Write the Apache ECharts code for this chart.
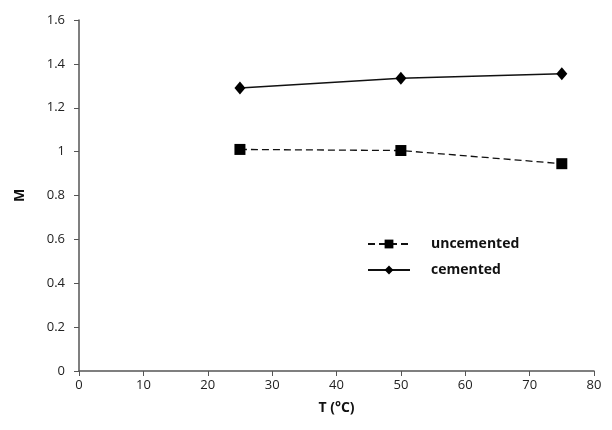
<!DOCTYPE html>
<html>
<head>
<meta charset="utf-8">
<script src="https://cdn.jsdelivr.net/npm/echarts@6/dist/echarts.min.js"></script>
<style>
  html, body { margin: 0; padding: 0; background: #fff; }
  #chart { width: 612px; height: 430px; }
</style>
</head>
<body>
<div id="chart"></div>
<script>
// 溫度與 M 值資料
var temps = [25, 50, 75];
var uncemented = [1.01, 1.005, 0.945];
var cemented = [1.29, 1.335, 1.355];
var xTicks = [0, 10, 20, 30, 40, 50, 60, 70, 80];
var yTicks = [0, 0.2, 0.4, 0.6, 0.8, 1, 1.2, 1.4, 1.6];

function pairs(xs, ys) {
    return xs.map(function (x, i) { return [x, ys[i]]; });
}

var chart = echarts.init(document.getElementById('chart'));

var axisText = { color: '#222', fontSize: 13, fontFamily: 'Open Sans' };

var option = {
    animation: false,
    grid: { left: 79, right: 18, top: 20, bottom: 59 },
    legend: {
        orient: 'vertical',
        left: 362,
        top: 232,
        itemWidth: 42,
        itemHeight: 11,
        itemGap: 12,
        textStyle: {
            fontSize: 14, fontWeight: 'bold', color: '#111', fontFamily: 'Open Sans',
            padding: [0, 0, 0, 16]   // 圖例文字與圖示間距
        },
        data: ['uncemented', 'cemented']
    },
    xAxis: {
        type: 'value',
        min: xTicks[0],
        max: xTicks[xTicks.length - 1],
        interval: 10,
        name: 'T (°C)',
        nameLocation: 'middle',
        nameGap: 30,
        nameTextStyle: { fontSize: 14, fontWeight: 'bold', color: '#111', fontFamily: 'Open Sans' },
        axisLine: { lineStyle: { color: '#555', width: 1.5 } },
        axisTick: { show: true, inside: false, length: 5, lineStyle: { color: '#555' } },
        axisLabel: axisText,
        splitLine: { show: false }
    },
    yAxis: {
        type: 'value',
        min: yTicks[0],
        max: yTicks[yTicks.length - 1],
        interval: 0.2,
        name: 'M',
        nameLocation: 'middle',
        nameGap: 52,
        nameRotate: 90,
        nameTextStyle: { fontSize: 14, fontWeight: 'bold', color: '#111', fontFamily: 'Open Sans' },
        axisLine: { show: true, lineStyle: { color: '#555', width: 1.5 } },
        axisTick: { show: true, inside: false, length: 5, lineStyle: { color: '#555' } },
        axisLabel: Object.assign({ margin: 14 }, axisText),
        splitLine: { show: false }
    },
    series: [
        {
            name: 'uncemented',
            type: 'line',
            data: pairs(temps, uncemented),
            symbol: 'rect',
            symbolSize: 11,
            lineStyle: { color: '#111', width: 1.3, type: [7, 4] },
            itemStyle: { color: '#000' }
        },
        {
            name: 'cemented',
            type: 'line',
            data: pairs(temps, cemented),
            symbol: 'diamond',
            symbolSize: [11, 13],
            lineStyle: { color: '#111', width: 1.5 },
            itemStyle: { color: '#000' }
        }
    ]
};

chart.setOption(option);
</script>
</body>
</html>
